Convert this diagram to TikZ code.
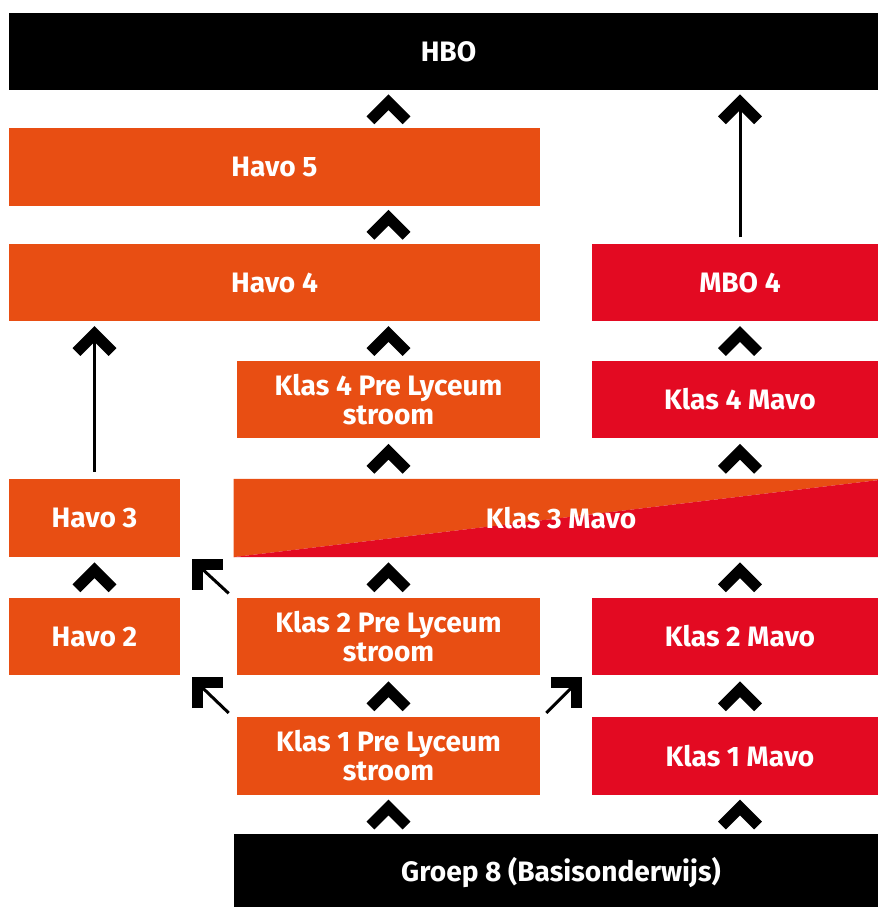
\documentclass[tikz,border=0pt]{standalone}
\usepackage{fontspec}
\setmainfont{Fira Sans}
\usepackage{tikz}
\usetikzlibrary{calc, backgrounds}
\definecolor{oranje}{HTML}{E84E13}
\definecolor{rood}{HTML}{E30A22}
\tikzstyle{blok} = [
    rectangle,
    minimum height = 1.55cm,
    inner sep = 0pt,
    align = center,
    text = white,
    font = \fontsize{16}{16.5}\selectfont\bfseries,
]
\tikzstyle{havo} = [blok, fill = oranje]
\tikzstyle{mavo} = [blok, fill = rood]
\tikzstyle{zwart} = [blok, fill = black]
\tikzstyle{schacht} = [line width = 0.06cm]
\tikzset{kap/.pic = {\draw[line width = 0.22cm] (-18, 11) -- (0, -7) -- (18, 11);}}

\begin{document}
\begin{tikzpicture} [x = 0.02cm, y = -0.02cm]
    \useasboundingbox (0, 0) rectangle (878, 907);
    \clip (0, 0) rectangle (878, 907);

    \node (HBO) [zwart, minimum width = 17.58cm] at (448.5, 51.5) {HBO};
    \node (Havo5) [havo, minimum width = 10.62cm] at (274.5, 167) {Havo 5};
    \node (Havo4) [havo, minimum width = 10.62cm] at (274.5, 282.5) {Havo 4};
    \node (MBO4) [mavo, minimum width = 5.92cm] at (740, 282.5) {MBO 4};
    \node (Klas4PL) [havo, minimum width = 6.06cm] at (388.5, 399.5) {Klas 4 Pre Lyceum\\stroom};
    \node (Klas4Mavo) [mavo, minimum width = 5.92cm] at (740, 399.5) {Klas 4 Mavo};
    \node (Havo3) [havo, minimum width = 3.42cm] at (94.5, 518) {Havo 3};
    \node (Klas3Mavo) [blok, minimum width = 13.08cm] at (561, 518) {Klas 3 Mavo};
    \node (Havo2) [havo, minimum width = 3.42cm] at (94.5, 636.5) {Havo 2};
    \node (Klas2PL) [havo, minimum width = 6.06cm] at (388.5, 636.5) {Klas 2 Pre Lyceum\\stroom};
    \node (Klas2Mavo) [mavo, minimum width = 5.92cm] at (740, 636.5) {Klas 2 Mavo};
    \node (Klas1PL) [havo, minimum width = 6.06cm] at (388.5, 756) {Klas 1 Pre Lyceum\\stroom};
    \node (Klas1Mavo) [mavo, minimum width = 5.92cm] at (740, 756) {Klas 1 Mavo};
    \node (Groep8) [zwart, minimum width = 13.08cm] at (561, 873) {Groep 8 (Basisonderwijs)};

    \begin{pgfonlayer}{background}
        \fill[oranje] (Klas3Mavo.south west) -- (Klas3Mavo.north west) -- (Klas3Mavo.north east) -- cycle;
        \fill[rood] (Klas3Mavo.south west) -- (Klas3Mavo.south east) -- (Klas3Mavo.north east) -- cycle;
    \end{pgfonlayer}

    \foreach \boven/\onder in {HBO/Havo5, Havo5/Havo4, Havo4/Klas4PL, Klas4PL/Klas3Mavo, Klas3Mavo/Klas2PL, Klas2PL/Klas1PL, Klas1PL/Groep8}
        \pic at ($(Klas4PL |- \boven.south)!0.5!(Klas4PL |- \onder.north)$) {kap};
    \foreach \boven/\onder in {MBO4/Klas4Mavo, Klas4Mavo/Klas3Mavo, Klas3Mavo/Klas2Mavo, Klas2Mavo/Klas1Mavo, Klas1Mavo/Groep8}
        \pic at ($(Klas4Mavo |- \boven.south)!0.5!(Klas4Mavo |- \onder.north)$) {kap};
    \pic at ($(Havo3.south)!0.5!(Havo2.north)$) {kap};

    \coordinate (PijlHavo) at ($(Havo3 |- Havo4.south)!0.5!(Havo3 |- Klas4PL.north)$);
    \draw[schacht, shorten <= 0.14cm] (Havo3.north) -- (PijlHavo);
    \pic at (PijlHavo) {kap};

    \coordinate (PijlMBO) at ($(MBO4 |- HBO.south)!0.5!(MBO4 |- Havo5.north)$);
    \draw[schacht, shorten <= 0.12cm] (MBO4.north) -- (PijlMBO);
    \pic at (PijlMBO) {kap};

    \coordinate (Start1) at ($(Klas2PL.north west) + (-8, -4)$);
    \coordinate (Kop1) at ($(Havo3.south east) + (22, 12)$);
    \draw[schacht] (Start1) -- (Kop1);
    \pic[rotate = 45] at (Kop1) {kap};

    \coordinate (Start2) at ($(Klas1PL.north west) + (-8, -4)$);
    \coordinate (Kop2) at ($(Havo2.south east) + (22, 12)$);
    \draw[schacht] (Start2) -- (Kop2);
    \pic[rotate = 45] at (Kop2) {kap};

    \coordinate (Start3) at ($(Klas1PL.north east) + (6, -4)$);
    \coordinate (Kop3) at ($(Klas2Mavo.south west) + (-20, 12)$);
    \draw[schacht] (Start3) -- (Kop3);
    \pic[rotate = -45] at (Kop3) {kap};
\end{tikzpicture}
\end{document}
